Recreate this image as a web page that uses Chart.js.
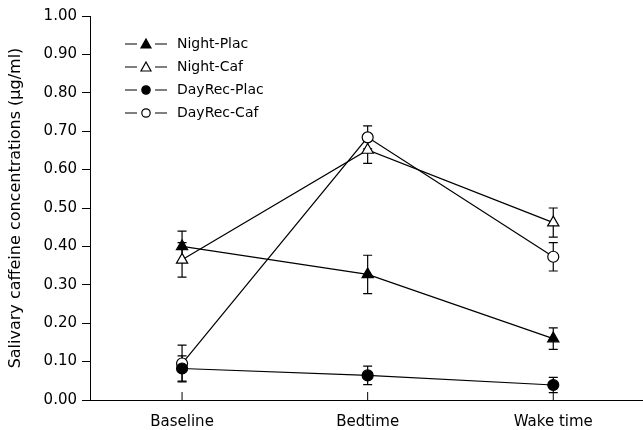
<!DOCTYPE html>
<html>
<head>
<meta charset="utf-8">
<script src="https://cdn.jsdelivr.net/npm/chart.js@4.4.0/dist/chart.umd.min.js"></script>
<style>
  html, body { margin: 0; padding: 0; background: #fff; }
  #wrap { width: 643px; height: 430px; }
</style>
</head>
<body>
<div id="wrap"><canvas id="c" width="643" height="430"></canvas></div>
<script>
// data
const categories = ["Baseline", "Bedtime", "Wake time"];
const yTicks = [0, 0.1, 0.2, 0.3, 0.4, 0.5, 0.6, 0.7, 0.8, 0.9, 1.0];

const nightPlac = [0.400, 0.327, 0.160];
const nightPlacErr = [0.040, 0.050, 0.028];
const nightCaf = [0.365, 0.651, 0.462];
const nightCafErr = [0.045, 0.035, 0.038];
const dayRecPlac = [0.082, 0.064, 0.039];
const dayRecPlacErr = [0.033, 0.024, 0.020];
const dayRecCaf = [0.095, 0.684, 0.373];
const dayRecCafErr = [0.048, 0.030, 0.037];

const FONT = "'DejaVu Sans', sans-serif";

function pts(vals) {
  return vals.map((v, i) => ({ x: i + 1, y: v }));
}

function series(label, vals, errs, style, filled) {
  return {
    label: label,
    data: pts(vals),
    errors: errs,
    borderColor: "#000",
    borderWidth: 1.2,
    pointStyle: style,
    pointRadius: style === "triangle" ? 6.5 : 5.5,
    pointBackgroundColor: filled ? "#000" : "#fff",
    pointBorderColor: "#000",
    pointBorderWidth: 1.2,
    fill: false,
    tension: 0
  };
}

// error bars + inward x ticks
const errorBars = {
  id: "errorBars",
  beforeDatasetsDraw(chart) {
    const ctx = chart.ctx;
    const xs = chart.scales.x, ys = chart.scales.y;
    ctx.save();
    ctx.strokeStyle = "#000";
    ctx.lineWidth = 1.2;
    chart.data.datasets.forEach(ds => {
      ds.data.forEach((p, i) => {
        const e = ds.errors[i];
        const x = xs.getPixelForValue(p.x);
        const y1 = ys.getPixelForValue(p.y + e);
        const y2 = ys.getPixelForValue(p.y - e);
        ctx.beginPath();
        ctx.moveTo(x, y1); ctx.lineTo(x, y2);
        ctx.moveTo(x - 4.5, y1); ctx.lineTo(x + 4.5, y1);
        ctx.moveTo(x - 4.5, y2); ctx.lineTo(x + 4.5, y2);
        ctx.stroke();
      });
    });
    // ticks on the x axis point up into the plot
    const b = chart.chartArea.bottom;
    ctx.lineWidth = 1;
    categories.forEach((c, i) => {
      const x = xs.getPixelForValue(i + 1);
      ctx.beginPath();
      ctx.moveTo(x, b); ctx.lineTo(x, b - 8);
      ctx.stroke();
    });
    // axis line runs on to the edge of the figure
    ctx.beginPath();
    ctx.moveTo(chart.chartArea.right, Math.round(b) + 0.5);
    ctx.lineTo(chart.width, Math.round(b) + 0.5);
    ctx.stroke();
    ctx.restore();
  }
};

// legend: line - marker - line, then text
const legendBox = {
  id: "legendBox",
  afterDraw(chart) {
    const ctx = chart.ctx;
    ctx.save();
    ctx.strokeStyle = "#000";
    ctx.fillStyle = "#000";
    ctx.lineWidth = 1.2;
    ctx.font = "14px " + FONT;
    ctx.textBaseline = "middle";
    chart.data.datasets.forEach((ds, i) => {
      const y = 44 + i * 23;
      ctx.beginPath();
      ctx.moveTo(125, y); ctx.lineTo(137, y);
      ctx.moveTo(155, y); ctx.lineTo(167, y);
      ctx.stroke();
      const mx = 146;
      ctx.beginPath();
      if (ds.pointStyle === "triangle") {
        ctx.moveTo(mx, y - 5); ctx.lineTo(mx + 5, y + 4); ctx.lineTo(mx - 5, y + 4); ctx.closePath();
      } else {
        ctx.arc(mx, y, 4.2, 0, Math.PI * 2);
      }
      ctx.fillStyle = ds.pointBackgroundColor;
      ctx.fill();
      ctx.stroke();
      ctx.fillStyle = "#000";
      ctx.fillText(ds.label, 177, y);
    });
    ctx.restore();
  }
};

new Chart(document.getElementById("c"), {
  type: "line",
  data: {
    datasets: [
      series("Night-Plac", nightPlac, nightPlacErr, "triangle", true),
      series("Night-Caf", nightCaf, nightCafErr, "triangle", false),
      series("DayRec-Plac", dayRecPlac, dayRecPlacErr, "circle", true),
      series("DayRec-Caf", dayRecCaf, dayRecCafErr, "circle", false)
    ]
  },
  options: {
    responsive: false,
    animation: false,
    layout: { padding: { top: 16, right: 0, left: 0, bottom: 0 } },
    plugins: { legend: { display: false }, tooltip: { enabled: false } },
    scales: {
      x: {
        type: "linear",
        min: 0.504,
        max: 3.442,
        afterBuildTicks: s => { s.ticks = categories.map((c, i) => ({ value: i + 1 })); },
        afterFit: s => { s.height = 30; },
        ticks: {
          color: "#000",
          font: { family: FONT, size: 15 },
          padding: 13,
          callback: v => categories[v - 1]
        },
        grid: { display: true, drawOnChartArea: false, drawTicks: false },
        border: { display: true, color: "#000", width: 1 }
      },
      y: {
        min: 0,
        max: 1,
        afterBuildTicks: s => { s.ticks = yTicks.map(v => ({ value: v })); },
        afterFit: s => { s.width = 90; },
        ticks: {
          color: "#000",
          font: { family: FONT, size: 15 },
          padding: 5,
          callback: v => v.toFixed(2)
        },
        grid: { drawOnChartArea: false, drawTicks: true, tickLength: 8, color: "#000" },
        border: { display: true, color: "#000", width: 1 },
        title: {
          display: true,
          text: "Salivary caffeine concentrations (µg/ml)",
          color: "#000",
          font: { family: FONT, size: 16 },
          padding: { top: 6, bottom: 0 }
        }
      }
    }
  },
  plugins: [errorBars, legendBox]
});
</script>
</body>
</html>
